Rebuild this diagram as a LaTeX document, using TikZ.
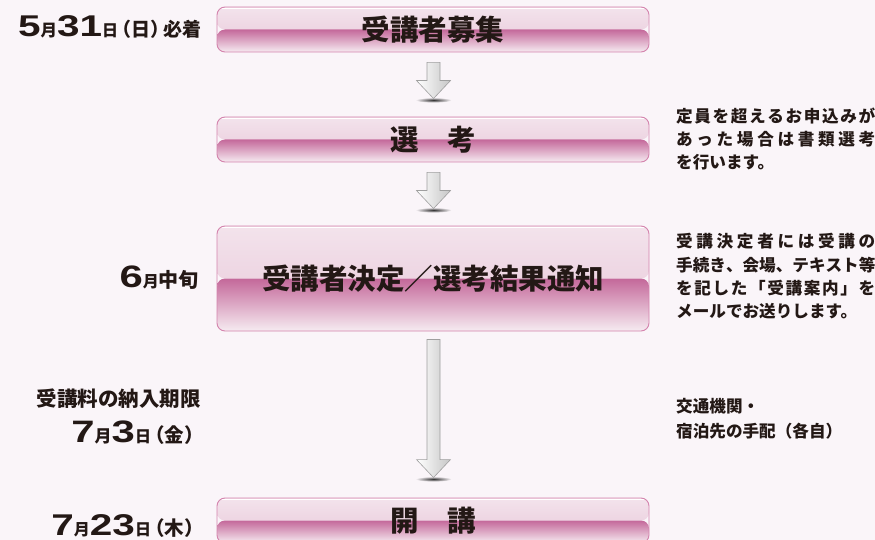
\documentclass[tikz,border=0pt]{standalone}
\usepackage{fontspec}
\setmainfont{Noto Sans CJK JP}
\newfontfamily\numf[FakeStretch=1.35]{Liberation Sans}
\usetikzlibrary{calc}
\definecolor{bg}{HTML}{FAF5F9}
\definecolor{ink}{HTML}{231815}
\definecolor{boxline}{HTML}{D483AD}
\definecolor{boxtop}{HTML}{F3E3EC}
\definecolor{boxmid}{HTML}{E8C7D8}
\definecolor{boxband}{HTML}{C4689A}
\definecolor{boxlow}{HTML}{DCA6C3}
\definecolor{boxbot}{HTML}{F6EBF1}
\newcommand\numtxt[2][30]{{\numf\bfseries\fontsize{#1}{#1}\selectfont #2}}
\newcommand\kj[2]{{\fontsize{#1}{#1}\selectfont\bfseries #2}}
\newcommand\lpar{\kern-.3em（}
\newcommand\rpar{）\kern-.3em}
\newcommand\jl[1]{\makebox[199pt][s]{#1}}
\newcommand\flowarrow[2]{%
  \shade[inner color=black!80, outer color=bg] ([yshift=-1.5pt]#2) ellipse (18pt and 2.6pt);
  \shadedraw[left color=white, right color=gray!45, draw=gray!75, line width=0.6pt, line join=miter]
   ([xshift=-6.5pt]#1) -- ([xshift=6.5pt]#1) -- ([xshift=6.5pt,yshift=18pt]#2) --
   ([xshift=17pt,yshift=18pt]#2) -- (#2) -- ([xshift=-17pt,yshift=18pt]#2) --
   ([xshift=-6.5pt,yshift=18pt]#2) -- cycle;
}
\tikzset{
  flowbox/.style={rounded corners=8pt, draw=boxline, line width=0.9pt,
    minimum width=432pt, inner sep=0pt, text=ink,
    font=\bfseries\fontsize{28.5}{30}\selectfont,
    path picture={
      \shade[top color=boxtop, bottom color=boxmid]
        (path picture bounding box.north west) rectangle (path picture bounding box.east);
      \shade[top color=boxband, middle color=boxlow, bottom color=boxbot]
        (path picture bounding box.west) rectangle (path picture bounding box.south east);
      \draw[white, line width=1.3pt]
        ([yshift=-1.8pt]path picture bounding box.north west) -- ([yshift=-1.8pt]path picture bounding box.north east);
    }},
  lefttxt/.style={anchor=base east, inner sep=0pt, text=ink},
  righttxt/.style={anchor=base west, inner sep=0pt, text=ink, font=\bfseries\fontsize{16.6}{18}\selectfont}
}
\begin{document}
\begin{tikzpicture}[x=1pt,y=-1pt]
\useasboundingbox[fill=bg] (0,0) rectangle (875,540);

% boxes
\node[flowbox, minimum height=45pt] (b1) at (433,29.5) {受講者募集};
\node[flowbox, minimum height=45pt] (b2) at (433,139.5) {選　考};
\node[flowbox, minimum height=105pt] (b3) at (433,278.5) {受講者決定／選考結果通知};
\node[flowbox, minimum height=45pt] (b4) at (433,520.5) {開　講};

% arrows
\coordinate (a1s) at ($(b1.south)+(0.5,10)$);
\coordinate (a1e) at ($(b2.north)+(0.5,-18)$);
\coordinate (a2s) at ($(b2.south)+(0.5,10)$);
\coordinate (a2e) at ($(b3.north)+(0.5,-17)$);
\coordinate (a3s) at ($(b3.south)+(0.5,8)$);
\coordinate (a3e) at ($(b4.north)+(0.5,-20)$);
\flowarrow{a1s}{a1e}
\flowarrow{a2s}{a2e}
\flowarrow{a3s}{a3e}

% left labels
\node[lefttxt] (l1) at (202,37) {\numtxt{5}\kj{16.5}{月}\numtxt{31}\kj{16}{日}\kj{19}{\lpar 日\rpar 必着}};
\node[lefttxt] (l2) at (199,287) {\numtxt[31]{6}\kj{16}{月}\kj{20}{中旬}};
\node[lefttxt] (l3) at (201,406) {\kj{20.5}{受講料の納入期限}};
\node[lefttxt] (l4) at (198,442) {\numtxt[31]{7}\kj{17}{月}\numtxt[31]{3}\kj{16}{日}\kj{19.5}{\lpar 金\rpar}};
\node[lefttxt] (l5) at (198,535) {\numtxt{7}\kj{16}{月}\numtxt{23}\kj{16}{日}\kj{19.5}{\lpar 木\rpar}};

% right notes
\node[righttxt] (r1a) at (676,123) {\jl{定\hfill 員\hfill を\hfill 超\hfill え\hfill る\hfill お\hfill 申\hfill 込\hfill み\hfill が}};
\node[righttxt] (r1b) at (676,146) {\jl{あ\hfill っ\hfill た\hfill 場\hfill 合\hfill は\hfill 書\hfill 類\hfill 選\hfill 考}};
\node[righttxt] (r1c) at (676,169) {を行います。};

\node[righttxt] (r2a) at (676,247) {\jl{受\hfill 講\hfill 決\hfill 定\hfill 者\hfill に\hfill は\hfill 受\hfill 講\hfill の}};
\node[righttxt] (r2b) at (676,271) {\jl{手\hfill 続\hfill き\hfill 、\hfill 会\hfill 場\hfill 、\hfill テ\hfill キ\hfill ス\hfill ト\hfill 等}};
\node[righttxt] (r2c) at (676,294) {\jl{を\hfill 記\hfill し\hfill た\hfill 「\hfill 受\hfill 講\hfill 案\hfill 内\hfill 」\hfill を}};
\node[righttxt] (r2d) at (676,317) {メールでお送りします。};

\node[righttxt] (r3a) at (676,412) {交通機関・};
\node[righttxt] (r3b) at (676,437) {宿泊先の手配（各自）};
\end{tikzpicture}
\end{document}
